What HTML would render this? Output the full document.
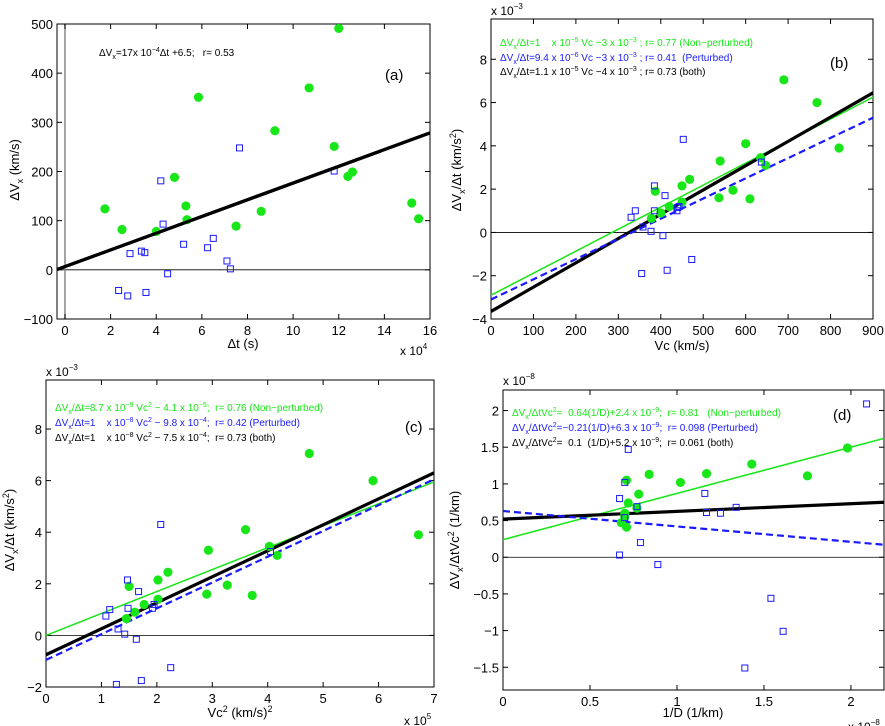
<!DOCTYPE html>
<html><head><meta charset="utf-8"><style>
body{margin:0;background:#fff}
svg{display:block;font-family:"Liberation Sans",Arial,sans-serif}
text{white-space:pre}
</style></head><body>
<svg id="chart" width="885" height="726" viewBox="0 0 885 726" xmlns="http://www.w3.org/2000/svg"></svg>
<script>
// ---- Panel (a) data ----
const aGreenX=[1.75,2.5,4,4.8,5.3,5.35,5.85,7.5,8.6,9.2,10.7,11.8,12,12.4,12.6,15.2,15.5];
const aGreenY=[124,82,78,188,130,102,351,89,119,283,370,251,491,190,199,136,104];
const aBlueX=[2.35,2.75,2.85,3.35,3.5,3.55,4.2,4.3,4.5,5.2,6.25,6.5,7.1,7.25,7.65,11.8];
const aBlueY=[-42,-53,33,38,35,-46,181,93,-8,52,45,64,18,2,248,201];
const aLineY=[0.6,278.5];
const aXTicks=[0,2,4,6,8,10,12,14,16];
const aYTicks=[-100,0,100,200,300,400,500];
// ---- Panel (b) data ----
const bGreenX=[378,387,400,420,450,450,468,537,540,570,600,610,635,647,690,768,820];
const bGreenY=[0.65,1.9,0.9,1.2,2.15,1.4,2.45,1.6,3.3,1.95,4.1,1.55,3.45,3.1,7.05,6.0,3.9];
const bBlueX=[330,340,355,358,377,385,385,405,410,415,438,440,443,453,473,637];
const bBlueY=[0.7,1.0,-1.9,0.25,0.05,2.15,1.0,-0.15,1.7,-1.75,1.0,1.15,1.2,4.3,-1.25,3.25];
const bGreenLine=[-2.9,6.25];
const bBlueLine=[-3.1,5.3];
const bBlackLine=[-3.65,6.45];
const bXTicks=[0,100,200,300,400,500,600,700,800,900];
const bYTicks=[-4,-2,0,2,4,6,8];
// ---- Panel (c) data ----
const cGreenX=[1.45,1.5,1.6,1.77,2.02,2.02,2.2,2.9,2.93,3.27,3.6,3.72,4.03,4.17,4.75,5.9,6.72];
const cGreenY=[0.65,1.9,0.9,1.2,2.15,1.4,2.45,1.6,3.3,1.95,4.1,1.55,3.45,3.1,7.05,6.0,3.9];
const cBlueX=[1.08,1.15,1.27,1.3,1.42,1.47,1.48,1.63,1.67,1.72,1.92,1.95,2.07,2.25,4.05];
const cBlueY=[0.75,1.0,-1.9,0.25,0.05,2.15,1.05,-0.15,1.7,-1.75,1.05,1.2,4.3,-1.25,3.25];
const cGreenLine=[0,5.95];
const cBlueLine=[-0.95,6.05];
const cBlackLine=[-0.75,6.3];
const cXTicks=[0,1,2,3,4,5,6,7];
const cYTicks=[-2,0,2,4,6,8];
// ---- Panel (d) data ----
const dGreenX=[0.68,0.7,0.7,0.71,0.71,0.72,0.77,0.78,0.84,1.02,1.17,1.43,1.75,1.98];
const dGreenY=[0.47,0.55,0.6,1.05,0.41,0.74,0.67,0.86,1.13,1.02,1.14,1.27,1.11,1.49];
const dBlueX=[0.67,0.67,0.7,0.7,0.72,0.77,0.79,0.89,1.16,1.17,1.25,1.34,1.39,1.54,1.61,2.09];
const dBlueY=[0.03,0.8,1.02,0.54,1.47,0.69,0.2,-0.1,0.87,0.61,0.6,0.68,-1.51,-0.56,-1.01,2.09];
const dGreenLine=[0.24,1.62];
const dBlueLine=[0.63,0.17];
const dBlackLine=[0.52,0.75];
const dXTicks=[0,0.5,1,1.5,2];
const dYTicks=[-1.5,-1,-0.5,0,0.5,1,1.5,2];

const NS="http://www.w3.org/2000/svg";
const svg=document.getElementById('chart');
function mk(tag,attrs,parent,text){
  const e=document.createElementNS(NS,tag);
  for(const k in attrs)e.setAttribute(k,attrs[k]);
  if(text!==undefined)e.textContent=text;
  (parent||svg).appendChild(e);return e;
}
function panel(id,box,xd,yd,xt,yt,gx,gy,bx,by,lines,zeroV){
  const g=mk('g',{});
  
  
  const X=v=>box.x0+(v-xd[0])/(xd[1]-xd[0])*(box.x1-box.x0);
  const Y=v=>box.y1-(v-yd[0])/(yd[1]-yd[0])*(box.y1-box.y0);
  const zl=mk('line',{x1:box.x0,x2:box.x1,y1:Y(0),y2:Y(0),stroke:'#000','stroke-width':0.8},g);
  
  
  if(zeroV){const v=mk('line',{x1:X(0),x2:X(0),y1:box.y0,y2:box.y1,stroke:'#888','stroke-width':1.5},g);
    
    }
  const r=mk('rect',{x:box.x0,y:box.y0,width:box.x1-box.x0,height:box.y1-box.y0,fill:'none',stroke:'#000','stroke-width':1},g);
  
  
  xt.forEach(v=>{
    const x=X(v);
    mk('line',{x1:x,x2:x,y1:box.y1,y2:box.y1-5,stroke:'#000'},g);
    mk('line',{x1:x,x2:x,y1:box.y0,y2:box.y0+5,stroke:'#000'},g);
    const t=mk('text',{x:x,y:box.y1+16,'text-anchor':'middle','font-size':13},g,String(v).replace('-','\u2212'));
    
    
  });
  yt.forEach(v=>{
    const y=Y(v);
    mk('line',{x1:box.x0,x2:box.x0+5,y1:y,y2:y,stroke:'#000'},g);
    mk('line',{x1:box.x1,x2:box.x1-5,y1:y,y2:y,stroke:'#000'},g);
    const t=mk('text',{x:box.x0-4,y:y+5,'text-anchor':'end','font-size':13},g,String(v).replace('-','\u2212'));
    
    
  });
  lines.forEach(L=>{
    const l=mk('line',{x1:X(xd[0]),x2:X(xd[1]),y1:Y(L.v[0]),y2:Y(L.v[1]),stroke:L.c,'stroke-width':L.w,'stroke-dasharray':L.d||'none'},g);
    
    
  });
  gx.forEach((v,i)=>{
    const c=mk('circle',{cx:X(v),cy:Y(gy[i]),r:4.6,fill:'#19e619'},g);
    
    
  });
  bx.forEach((v,i)=>{
    const s=mk('rect',{x:X(v)-3,y:Y(by[i])-3,width:6,height:6,fill:'none',stroke:'#1a1aff','stroke-width':1},g);
    
    
  });
  lines.filter(L=>L.top).forEach(L=>{
    const l=mk('line',{x1:X(xd[0]),x2:X(xd[1]),y1:Y(L.v[0]),y2:Y(L.v[1]),stroke:L.c,'stroke-width':L.w},g);
    
    
  });
  return g;
}
panel('a',{x0:57,x1:430,y0:24,y1:319},[-0.35,16],[-100,500],aXTicks,aYTicks,aGreenX,aGreenY,aBlueX,aBlueY,
  [{v:aLineY,c:'#000',w:3.2,n:'fit-line-both',top:true}],true);
panel('b',{x0:491,x1:873,y0:19,y1:319},[0,900],[-4,9.86],bXTicks,bYTicks,bGreenX,bGreenY,bBlueX,bBlueY,
  [{v:bGreenLine,c:'#19e619',w:1.5,n:'fit-line-non-perturbed'},{v:bBlackLine,c:'#000',w:3.2,n:'fit-line-both'},{v:bBlueLine,c:'#1a1aff',w:2.2,d:'7,4',n:'fit-line-perturbed'}],false);
panel('c',{x0:46,x1:434,y0:380,y1:687},[0,7],[-2,9.9],cXTicks,cYTicks,cGreenX,cGreenY,cBlueX,cBlueY,
  [{v:cGreenLine,c:'#19e619',w:1.5,n:'fit-line-non-perturbed'},{v:cBlackLine,c:'#000',w:3.2,n:'fit-line-both'},{v:cBlueLine,c:'#1a1aff',w:2.2,d:'7,4',n:'fit-line-perturbed'}],false);
panel('d',{x0:503,x1:884,y0:390,y1:690},[0,2.19],[-1.81,2.28],dXTicks,dYTicks,dGreenX,dGreenY,dBlueX,dBlueY,
  [{v:dGreenLine,c:'#19e619',w:1.5,n:'fit-line-non-perturbed'},{v:dBlackLine,c:'#000',w:3.2,n:'fit-line-both'},{v:dBlueLine,c:'#1a1aff',w:2.2,d:'7,4',n:'fit-line-perturbed'}],false);
</script>
<svg style="position:absolute;left:0;top:0" width="885" height="726" font-family="Liberation Sans, Arial, sans-serif">
  <text x="99" y="56" font-size="10">ΔV<tspan font-size="7" dy="3">x</tspan><tspan dy="-3">=17x 10</tspan><tspan font-size="7" dy="-4">−4</tspan><tspan dy="4">Δt +6.5;   r= 0.53</tspan></text>
  <text x="385" y="80" font-size="15">(a)</text>
  <text transform="translate(19,170) rotate(-90)" text-anchor="middle" font-size="13">ΔV<tspan font-size="9" dy="4">x</tspan><tspan dy="-4"> (km/s)</tspan></text>
  <text x="243" y="348" text-anchor="middle" font-size="13">Δt (s)</text>
  <text x="400" y="355" font-size="12">x 10<tspan font-size="8" dy="-6">4</tspan></text>
  <text x="491" y="15" font-size="12">x 10<tspan font-size="8" dy="-6">−3</tspan></text>
  <text x="500" y="46" font-size="10" fill="#19e619">ΔV<tspan font-size="7" dy="3">x</tspan><tspan dy="-3">/Δt=1    x 10</tspan><tspan font-size="7" dy="-4">−5</tspan><tspan dy="4"> Vc −3 x 10</tspan><tspan font-size="7" dy="-4">−3</tspan><tspan dy="4"> ; r= 0.77 (Non−perturbed)</tspan></text>
  <text x="500" y="61" font-size="10" fill="#1a1aff">ΔV<tspan font-size="7" dy="3">x</tspan><tspan dy="-3">/Δt=9.4 x 10</tspan><tspan font-size="7" dy="-4">−6</tspan><tspan dy="4"> Vc −3 x 10</tspan><tspan font-size="7" dy="-4">−3</tspan><tspan dy="4"> ; r= 0.41  (Perturbed)</tspan></text>
  <text x="500" y="75" font-size="10">ΔV<tspan font-size="7" dy="3">x</tspan><tspan dy="-3">/Δt=1.1 x 10</tspan><tspan font-size="7" dy="-4">−5</tspan><tspan dy="4"> Vc −4 x 10</tspan><tspan font-size="7" dy="-4">−3</tspan><tspan dy="4"> ; r= 0.73 (both)</tspan></text>
  <text x="830" y="68" font-size="15">(b)</text>
  <text transform="translate(461,170) rotate(-90)" text-anchor="middle" font-size="13">ΔV<tspan font-size="9" dy="4">x</tspan><tspan dy="-4">/Δt (km/s</tspan><tspan font-size="9" dy="-5">2</tspan><tspan dy="5">)</tspan></text>
  <text x="682" y="350" text-anchor="middle" font-size="13">Vc (km/s)</text>
  <text x="46" y="376" font-size="12">x 10<tspan font-size="8" dy="-6">−3</tspan></text>
  <text x="55" y="411" font-size="10" fill="#19e619">ΔV<tspan font-size="7" dy="3">x</tspan><tspan dy="-3">/Δt=8.7 x 10</tspan><tspan font-size="7" dy="-4">−9</tspan><tspan dy="4"> Vc</tspan><tspan font-size="7" dy="-4">2</tspan><tspan dy="4"> − 4.1 x 10</tspan><tspan font-size="7" dy="-4">−5</tspan><tspan dy="4">;  r= 0.76 (Non−perturbed)</tspan></text>
  <text x="55" y="426" font-size="10" fill="#1a1aff">ΔV<tspan font-size="7" dy="3">x</tspan><tspan dy="-3">/Δt=1    x 10</tspan><tspan font-size="7" dy="-4">−8</tspan><tspan dy="4"> Vc</tspan><tspan font-size="7" dy="-4">2</tspan><tspan dy="4"> − 9.8 x 10</tspan><tspan font-size="7" dy="-4">−4</tspan><tspan dy="4">;  r= 0.42 (Perturbed)</tspan></text>
  <text x="55" y="441" font-size="10">ΔV<tspan font-size="7" dy="3">x</tspan><tspan dy="-3">/Δt=1    x 10</tspan><tspan font-size="7" dy="-4">−8</tspan><tspan dy="4"> Vc</tspan><tspan font-size="7" dy="-4">2</tspan><tspan dy="4"> − 7.5 x 10</tspan><tspan font-size="7" dy="-4">−4</tspan><tspan dy="4">;  r= 0.73 (both)</tspan></text>
  <text x="405" y="432" font-size="15">(c)</text>
  <text transform="translate(14,530) rotate(-90)" text-anchor="middle" font-size="13">ΔV<tspan font-size="9" dy="4">x</tspan><tspan dy="-4">/Δt (km/s</tspan><tspan font-size="9" dy="-5">2</tspan><tspan dy="5">)</tspan></text>
  <text x="240" y="717" text-anchor="middle" font-size="13">Vc<tspan font-size="9" dy="-5">2</tspan><tspan dy="5"> (km/s)</tspan><tspan font-size="9" dy="-5">2</tspan></text>
  <text x="404" y="725" font-size="12">x 10<tspan font-size="8" dy="-6">5</tspan></text>
  <text x="503" y="385" font-size="12">x 10<tspan font-size="8" dy="-6">−8</tspan></text>
  <text x="512" y="416" font-size="10" fill="#19e619">ΔV<tspan font-size="7" dy="3">x</tspan><tspan dy="-3">/ΔtVc</tspan><tspan font-size="7" dy="-4">2</tspan><tspan dy="4">=  0.64(1/D)+2.4 x 10</tspan><tspan font-size="7" dy="-4">−9</tspan><tspan dy="4">;  r= 0.81   (Non−perturbed)</tspan></text>
  <text x="512" y="431" font-size="10" fill="#1a1aff">ΔV<tspan font-size="7" dy="3">x</tspan><tspan dy="-3">/ΔtVc</tspan><tspan font-size="7" dy="-4">2</tspan><tspan dy="4">=−0.21(1/D)+6.3 x 10</tspan><tspan font-size="7" dy="-4">−9</tspan><tspan dy="4">;  r= 0.098 (Perturbed)</tspan></text>
  <text x="512" y="446" font-size="10">ΔV<tspan font-size="7" dy="3">x</tspan><tspan dy="-3">/ΔtVc</tspan><tspan font-size="7" dy="-4">2</tspan><tspan dy="4">=  0.1  (1/D)+5.2 x 10</tspan><tspan font-size="7" dy="-4">−9</tspan><tspan dy="4">;  r= 0.061 (both)</tspan></text>
  <text x="833" y="420" font-size="15">(d)</text>
  <text transform="translate(459,540) rotate(-90)" text-anchor="middle" font-size="13">ΔV<tspan font-size="9" dy="4">x</tspan><tspan dy="-4">/ΔtVc</tspan><tspan font-size="9" dy="-5">2</tspan><tspan dy="5"> (1/km)</tspan></text>
  <text x="693" y="717" text-anchor="middle" font-size="13">1/D (1/km)</text>
  <text x="848" y="731" font-size="12">x 10<tspan font-size="8" dy="-6">−8</tspan></text>
</svg>
</body></html>
